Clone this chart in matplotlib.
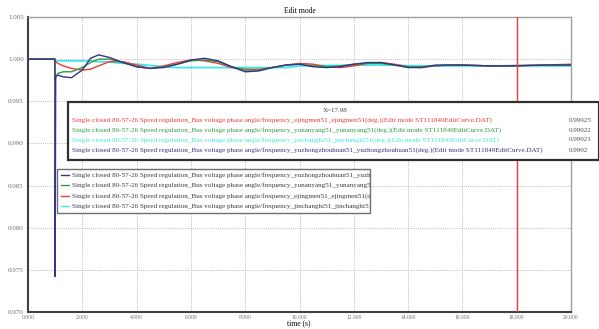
import matplotlib
matplotlib.use("Agg")
import matplotlib.pyplot as plt
from matplotlib.patches import Rectangle
from matplotlib.lines import Line2D

# ---- data ----
time = [0, 0.99, 1.0, 1.02, 1.1, 1.3, 1.6, 2.0, 2.3, 2.6, 3.0, 3.5, 4.0, 4.5,
        5.0, 5.5, 6.0, 6.5, 7.0, 7.5, 8.0, 8.5, 9.0, 9.5, 10.0, 10.5, 11.0,
        11.5, 12.0, 12.5, 13.0, 13.5, 14.0, 14.5, 15.0, 15.5, 16.0, 17.0,
        18.0, 19.0, 20.0]

yuzhong = [1.0, 1.0, 0.9742, 0.9980, 0.9981, 0.9979, 0.9978, 0.9987, 1.0001,
           1.0005, 1.0002, 0.9996, 0.9991, 0.9989, 0.9990, 0.9994, 0.9999,
           1.0001, 0.9998, 0.9991, 0.9985, 0.9986, 0.9990, 0.9993, 0.9994,
           0.9991, 0.9990, 0.9991, 0.9994, 0.9996, 0.9996, 0.9993, 0.9990,
           0.9990, 0.9993, 0.9993, 0.9993, 0.9992, 0.9992, 0.9993, 0.9993]

yunanyang = [1.0, 1.0, 0.9976, 0.9978, 0.9983, 0.9985, 0.9985, 0.9990, 0.9996,
             1.0000, 1.0000, 0.9996, 0.9991, 0.9989, 0.9991, 0.9994, 0.9998,
             0.9999, 0.9997, 0.9991, 0.9987, 0.9987, 0.9990, 0.9993, 0.9994,
             0.9992, 0.9991, 0.9992, 0.9994, 0.9995, 0.9995, 0.9993, 0.9991,
             0.9991, 0.9992, 0.9993, 0.9993, 0.9992, 0.99922, 0.9993, 0.9993]

ejingmen = [1.0, 1.0, 0.99975, 0.9997, 0.9995, 0.9992, 0.9989, 0.9987, 0.9988,
            0.9992, 0.9997, 0.9997, 0.9993, 0.9989, 0.9992, 0.9996, 0.9999,
            0.9998, 0.9995, 0.9990, 0.9988, 0.9988, 0.9990, 0.9993, 0.9995,
            0.9994, 0.9991, 0.9990, 0.9992, 0.9995, 0.9996, 0.9994, 0.9991,
            0.9990, 0.9992, 0.9993, 0.9993, 0.9992, 0.99925, 0.9993, 0.9994]

jinchang = [1.0, 1.0, 0.99985, 0.9998, 0.9998, 0.9998, 0.9998, 0.9998, 0.9998,
            0.9997, 0.99965, 0.9995, 0.9994, 0.99925, 0.9991, 0.9990, 0.9990,
            0.9990, 0.9990, 0.9990, 0.9990, 0.9990, 0.9990, 0.9990, 0.9992,
            0.99925, 0.99925, 0.99925, 0.9993, 0.9993, 0.9993, 0.9993, 0.9992,
            0.9992, 0.9992, 0.9992, 0.9992, 0.9992, 0.99921, 0.9992, 0.9992]

cursor_x = 17.98
cursor_vals = ["0.99925", "0.99922", "0.99921", "0.9992"]

xticks = [0, 2, 4, 6, 8, 10, 12, 14, 16, 18, 20]
yticks = [0.970, 0.975, 0.980, 0.985, 0.990, 0.995, 1.000, 1.005]

base = "Single closed 80-57-26 Speed regulation_Bus voltage phase angle/frequency_"
tail = "(deg.)(Edit mode ST111849EditCurve.DAT)"
names = {
    "yuzhong": "yuzhongzhouhuan51_yuzhongzhouhuan51",
    "yunanyang": "yunanyang51_yunanyang51",
    "ejingmen": "ejingmen51_ejingmen51",
    "jinchang": "jinchanghi51_jinchanghi51",
}

c_red = "#f03a3a"
c_green = "#2f9a40"
c_cyan = "#3ee6e6"
c_navy = "#343488"

W, H = 599, 329
FONT = "Liberation Serif"
FS = 5.15


def px(x, y):
    return (x / W, 1 - y / H)


fig = plt.figure(figsize=(W / 100, H / 100), dpi=100)
ax = fig.add_axes([28 / W, 1 - 312 / H, (571 - 28) / W, (312 - 17) / H])

ax.plot(time, jinchang, color=c_cyan, lw=1.3, zorder=3)
ax.plot(time, ejingmen, color=c_red, lw=1.0, zorder=4)
ax.plot(time, yunanyang, color=c_green, lw=1.0, zorder=5)
ax.plot(time, yuzhong, color=c_navy, lw=1.0, zorder=6)
ax.axvline(18, color="#ff3535", lw=1.0, zorder=7)

ax.set_xlim(0, 20)
ax.set_ylim(0.970, 1.005)
ax.set_xticks(xticks)
ax.set_yticks(yticks)
ax.set_xticklabels(["%.3f" % v for v in xticks], fontsize=4, color="#707070", family=FONT)
ax.set_yticklabels(["%.3f" % v for v in yticks], fontsize=5, color="#707070", family=FONT)
ax.tick_params(length=0, pad=3)
ax.tick_params(axis="x", pad=2)
ax.grid(True, color="#a8a8a8", lw=0.6, linestyle=(0, (1, 1.5)))

for s in ["left", "bottom"]:
    ax.spines[s].set_color("#404040")
    ax.spines[s].set_linewidth(1.5)
for s in ["top", "right"]:
    ax.spines[s].set_color("#a0a0a0")
    ax.spines[s].set_linewidth(1.0)

ax.set_title("Edit mode", fontsize=5.5, family=FONT, pad=3)
fig.text(*px(299, 323), "time (s)", fontsize=5.5, family=FONT,
         ha="center", va="center")

# cursor readout box
b1x, b1y = px(68, 160)
b1w = (W - 68) / W
b1h = (160 - 102) / H
box1 = Rectangle((b1x, b1y), b1w, b1h, transform=fig.transFigure,
                 facecolor="white", edgecolor="#303030", lw=1.6, zorder=10)
fig.add_artist(box1)
fig.text(*px(323, 110), "X=%.2f" % cursor_x, fontsize=5, family=FONT,
         color="#404040", va="center", zorder=11)
rows1 = [("ejingmen", c_red), ("yunanyang", c_green),
         ("jinchang", c_cyan), ("yuzhong", c_navy)]
for i, (k, c) in enumerate(rows1):
    y = 120 + i * 10
    fig.text(*px(72.5, y), base + names[k] + tail, fontsize=FS, family=FONT,
             color=c, va="center", zorder=11)
    fig.text(*px(569, y), cursor_vals[i], fontsize=FS, family=FONT,
             color="#505050", va="center", zorder=11)

# legend box
b2x, b2y = px(57, 213)
box2 = Rectangle((b2x, b2y), (370 - 57) / W, (213 - 169) / H,
                 transform=fig.transFigure, facecolor="white",
                 edgecolor="#707070", lw=1.0, zorder=10)
fig.add_artist(box2)
rows2 = [("yuzhong", c_navy), ("yunanyang", c_green),
         ("ejingmen", c_red), ("jinchang", c_cyan)]
for i, (k, c) in enumerate(rows2):
    y = 175 + i * 10.3
    x0, yy = px(61, y)
    x1, _ = px(69, y)
    fig.add_artist(Line2D([x0, x1], [yy, yy], transform=fig.transFigure,
                          color=c, lw=1.0, zorder=11))
    t = fig.text(*px(72.5, y), base + names[k] + tail, fontsize=FS, family=FONT,
                 color="#3a3a4a", va="center", zorder=11)
    t.set_clip_path(box2)

fig.savefig("out.png", dpi=100)
